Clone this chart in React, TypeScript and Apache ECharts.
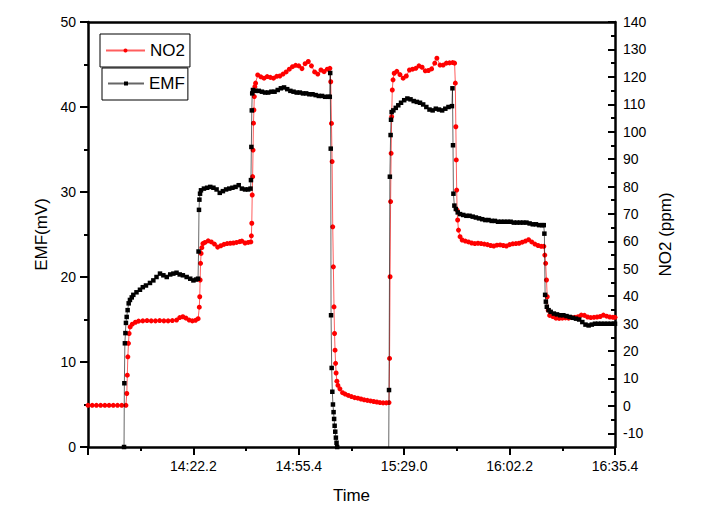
import React, { useEffect, useRef } from "react";
import * as echarts from "echarts";

const timeLabels = ["", "14:22.2", "14:55.4", "15:29.0", "16:02.2", "16:35.4"];
const no2TickValues = [-10, 0, 10, 20, 30, 40, 50, 60, 70, 80, 90, 100, 110, 120, 130, 140];
const no2MinorTickValues = [-5, 5, 15, 25, 35, 45, 55, 65, 75, 85, 95, 105, 115, 125, 135];

// NO2 (ppm): [time position, value]
const no2Data: [number, number][] = [
  [0, 0.2], [4, 0.2], [8, 0.2], [12, 0.2], [16, 0.2], [20, 0.2], [24, 0.2], [28, 0.2], [32, 0.2], [36, 0.2],
  [36.8, 4.5], [37.3, 11.2], [37.8, 17.9], [38.4, 22.8], [39, 26.4], [40, 28.8], [42, 29.8], [45, 30.5], [48, 30.9],
  [52, 31.0], [56, 31.1], [60, 31.0], [64, 31.0], [68, 31.1], [72, 31.0], [76, 31.0], [80, 31.1], [84, 31.3], [87, 32.2],
  [90, 32.5], [93, 32.0], [96, 31.3], [99, 31.0], [102, 31.2], [104.5, 31.8],
  [105.6, 36], [106, 39.8], [106.4, 45.9], [106.8, 52], [107.3, 55.6], [108, 57.7], [109, 59.2],
  [111, 59.6], [114, 60.2], [117, 59.8], [120, 59.0], [123, 57.9], [126, 58.4], [129, 58.9], [132, 59.2], [135, 59.3],
  [138, 59.4], [141, 59.6], [144, 59.9], [146, 60.1], [149, 59.4], [152, 59.6], [154.5, 59.8],
  [155, 62], [155.4, 66.6], [155.8, 76.9], [156.2, 83.6], [156.6, 93.3], [157, 103.1], [157.4, 107.9], [157.8, 112.8], [158.3, 116.4], [159, 117.7],
  [161, 120.7], [164, 120.0], [167, 119.5], [170, 120.1], [173, 119.8], [176, 119.5], [179, 120.2], [182, 120.3], [185, 121.0],
  [188, 121.8], [191, 122.8], [194, 123.7], [197, 124.2], [200, 124.0], [203, 123.0], [206, 124.8], [209, 125.6], [212, 124.0],
  [215, 121.8], [218, 121.0], [221, 122.5], [224, 121.9], [227, 122.8], [229.5, 123.1],
  [230.3, 118.2], [231, 103], [231.6, 89.1], [232.2, 65.3], [232.8, 50.7], [233.4, 36.1], [233.9, 26.4], [234.4, 20.3], [234.9, 15.5],
  [235.4, 12], [236.1, 9], [237.1, 7.5], [239, 6.2], [241.5, 4.8], [244, 4.3], [247, 3.8], [250, 3.4], [253, 3.0], [256, 2.8],
  [259, 2.5], [262, 2.2], [265, 2.0], [268, 1.8], [271, 1.6], [274, 1.4], [277, 1.2], [280, 1.1], [283, 1.1], [285.6, 1.2],
  [286.1, 17.3], [286.6, 47.1], [287.1, 74.5], [287.6, 92.1], [288.1, 105.5], [288.7, 115.2], [289.4, 118.9], [290.5, 121.3],
  [293, 122.0], [296, 120.8], [299, 119.5], [302, 120.3], [305, 122.5], [308, 122.8], [311, 123.1], [314, 124.0], [317, 123.5],
  [320, 122.2], [323, 122.3], [326, 122.9], [329, 125.0], [331, 126.8], [334, 124.3], [337, 124.3], [340, 125.0], [343, 125.1],
  [346, 125.2], [347.8, 125.0],
  [348.5, 117.7], [349, 101.8], [349.4, 89.7], [349.8, 78.7], [350.2, 71.4], [350.7, 67.8], [351.5, 64.1], [353, 61.7],
  [355, 60.5], [358, 60.1], [361, 59.8], [364, 59.4], [367, 59.2], [370, 59.3], [373, 59.2], [376, 59.0], [379, 58.8], [382, 58.5],
  [385, 58.3], [388, 58.6], [391, 58.7], [394, 58.5], [397, 58.3], [400, 58.8], [403, 59.1], [406, 59.2], [409, 59.3], [412, 59.7],
  [415, 60.1], [418, 60.6], [421, 59.8], [424, 59.0], [427, 58.5], [430, 58.2], [432.5, 58.2],
  [433.4, 55], [434.2, 52.0], [435, 45.9], [435.7, 39.8], [436.6, 34.9], [438, 33.0],
  [441, 32.6], [444, 32.0], [447, 31.9], [450, 32.0], [453, 32.1], [456, 32.0], [459, 32.2], [462, 32.3], [465, 32.5], [468, 33.1],
  [471, 33.0], [474, 32.4], [477, 32.2], [480, 32.3], [483, 32.4], [486, 32.6], [489, 33.1], [492, 32.7], [495, 32.4], [498, 32.3], [500, 32.3],
];

// EMF (mV): [time position, value]
const emfData: [number, number][] = [
  [34.2, 0], [34.5, 7.5], [35, 12.2], [35.5, 13.4], [36, 14.6], [36.7, 15.3], [37.6, 16.1], [38.6, 16.9], [39.8, 17.3],
  [41.5, 17.6], [43, 17.9], [46, 18.2], [49.3, 18.5], [52, 18.8], [55, 19.0], [58.8, 19.3], [62, 19.6], [65, 20.0], [68.3, 20.4],
  [71.5, 20.2], [74.7, 20.0], [78, 20.3], [81, 20.4], [84, 20.5], [87, 20.3], [90, 20.2], [93.6, 20.0], [97, 19.8], [100, 19.6],
  [102.5, 19.7], [104.4, 19.8],
  [104.9, 23.0], [105.3, 27.9], [105.7, 29.1], [106.3, 29.8], [107.2, 30.2],
  [110, 30.4], [113, 30.5], [116, 30.6], [119, 30.5], [122, 30.3], [125, 29.9], [128, 30.1], [131, 30.3], [134, 30.4], [137, 30.5],
  [140, 30.6], [143, 30.8], [146, 30.4], [149, 30.3], [152, 30.3], [154.2, 30.4],
  [154.6, 31.4], [155, 35.3], [155.4, 39.6], [155.8, 41.6], [156.5, 42.0],
  [159, 41.9], [162, 41.9], [165, 41.8], [168, 41.7], [171, 41.7], [174, 41.8], [177, 41.8], [180, 42.0], [183, 42.2], [186, 42.3],
  [189, 42.1], [192, 41.9], [195, 41.8], [198, 41.7], [201, 41.7], [204, 41.6], [207, 41.6], [210, 41.5], [213, 41.5], [216, 41.4],
  [219, 41.3], [222, 41.3], [225, 41.2], [228, 41.2], [229.4, 41.2],
  [229.8, 44.0], [230.3, 35.1], [230.6, 15.5], [231.2, 9.3], [231.8, 6.5], [232.4, 5.0], [233, 4.1], [233.5, 3.3], [234, 2.5],
  [234.6, 1.8], [235.2, 1.1], [235.8, 0.5], [236.4, 0.0], [240, -2.0], [250, -3.0], [270, -3.0], [285.2, -3.0],
  [285.6, 6.7], [286.4, 31.8], [287.1, 36.7], [287.5, 38.5], [288.1, 39.4],
  [289.7, 39.6], [292, 39.9], [294.4, 40.2], [297, 40.5], [300, 40.8], [303, 41.0], [306, 40.9], [309, 40.7], [312, 40.6], [315, 40.5],
  [318, 40.3], [321, 40.0], [324, 39.7], [327, 39.6], [330, 39.8], [333, 39.7], [336, 39.6], [339, 39.8], [342, 40.0], [345.3, 40.1],
  [345.8, 42.2], [346.3, 35.5], [346.7, 29.8], [347.6, 28.4], [349, 28.0], [350.8, 27.6],
  [353, 27.4], [356, 27.3], [359, 27.2], [362, 27.2], [365, 27.1], [368, 27.0], [371, 26.9], [374, 26.8], [377, 26.7], [380, 26.7],
  [383, 26.6], [386, 26.6], [389, 26.5], [392, 26.5], [395, 26.5], [398, 26.5], [401, 26.5], [404, 26.4], [407, 26.4], [410, 26.4],
  [413, 26.4], [416, 26.4], [419, 26.3], [422, 26.2], [425, 26.2], [428, 26.1], [431, 26.1], [432.4, 26.1],
  [433, 25.1], [433.7, 17.9], [434.4, 17.1], [435.3, 16.5], [437, 16.1], [439, 15.9], [442, 15.7], [445, 15.6], [448, 15.5],
  [451, 15.5], [454, 15.4], [457, 15.3], [460, 15.2], [463, 15.1], [466, 15.0], [469, 14.7], [472, 14.4], [475, 14.3], [478, 14.4],
  [481, 14.5], [484, 14.5], [487, 14.5], [490, 14.5], [493, 14.5], [496, 14.5], [499, 14.5], [500, 14.5],
];

const FONT = "'Liberation Sans', Arial, sans-serif";

export default function App() {
  const ref = useRef<HTMLDivElement>(null);
  useEffect(() => {
    if (!ref.current) return;
    const chart = echarts.init(ref.current, undefined, { renderer: "svg" });
    const axisLineStyle = { color: "#000", width: 2.5 };
    chart.setOption({
      animation: false,
      backgroundColor: "#fff",
      textStyle: { fontFamily: FONT },
      grid: { left: 88, right: 94, top: 22, bottom: 74, containLabel: false },
      legend: [
        {
          data: [{ name: "NO2" }],
          left: 100,
          top: 34,
          orient: "vertical",
          itemWidth: 39,
          itemHeight: 5,
          padding: [8, 5, 8, 5],
          borderColor: "#000",
          borderWidth: 1,
          textStyle: { fontSize: 17, color: "#000", fontFamily: FONT },
          selectedMode: false,
        },
        {
          data: [{ name: "EMF" }],
          left: 102,
          top: 68,
          orient: "vertical",
          itemWidth: 36,
          itemHeight: 5,
          padding: [7, 3, 8, 5],
          borderColor: "#000",
          borderWidth: 1,
          textStyle: { fontSize: 17, color: "#000", fontFamily: FONT },
          selectedMode: false,
        },
      ],
      xAxis: [
        {
          type: "value",
          min: 0,
          max: 500,
          interval: 100,
          name: "Time",
          nameLocation: "middle",
          nameGap: 40,
          nameTextStyle: { fontSize: 17, color: "#000", fontFamily: FONT },
          axisLine: { onZero: false, lineStyle: axisLineStyle },
          axisTick: { length: 8, lineStyle: { color: "#000", width: 2 } },
          minorTick: { show: true, splitNumber: 2, length: 4, lineStyle: { color: "#000", width: 2 } },
          axisLabel: {
            margin: 12,
            fontSize: 14,
            color: "#000",
            fontFamily: FONT,
            showMinLabel: true,
            showMaxLabel: true,
            formatter: (v: number) => timeLabels[Math.round(v / 100)] ?? "",
          },
          splitLine: { show: false },
        },
        {
          type: "value",
          position: "top",
          min: 0,
          max: 500,
          axisLine: { show: true, onZero: false, lineStyle: axisLineStyle },
          axisTick: { show: false },
          axisLabel: { show: false },
          splitLine: { show: false },
        },
      ],
      yAxis: [
        {
          type: "value",
          position: "left",
          min: 0,
          max: 50,
          interval: 10,
          name: "EMF(mV)",
          nameLocation: "middle",
          nameGap: 36,
          nameTextStyle: { fontSize: 17, color: "#000", fontFamily: FONT },
          axisLine: { show: true, onZero: false, lineStyle: axisLineStyle },
          axisTick: { length: 8, lineStyle: { color: "#000", width: 2 } },
          minorTick: { show: true, splitNumber: 2, length: 4, lineStyle: { color: "#000", width: 2 } },
          axisLabel: { margin: 12, fontSize: 14, color: "#000", fontFamily: FONT },
          splitLine: { show: false },
        },
        {
          type: "value",
          position: "right",
          min: -15,
          max: 140,
          name: "NO2 (ppm)",
          nameLocation: "middle",
          nameGap: 40,
          nameTextStyle: { fontSize: 17, color: "#000", fontFamily: FONT },
          axisLine: { show: true, onZero: false, lineStyle: axisLineStyle },
          axisTick: {
            show: true,
            inside: true,
            length: 7,
            customValues: no2TickValues,
            lineStyle: { color: "#000", width: 2 },
          },
          axisLabel: {
            show: true,
            margin: 8,
            fontSize: 14,
            color: "#000",
            fontFamily: FONT,
            customValues: no2TickValues,
          },
          splitLine: { show: false },
        },
        {
          type: "value",
          position: "right",
          min: -15,
          max: 140,
          axisLine: { show: false, onZero: false },
          axisTick: {
            show: true,
            inside: true,
            length: 4,
            customValues: no2MinorTickValues,
            lineStyle: { color: "#000", width: 2 },
          },
          axisLabel: { show: false },
          splitLine: { show: false },
        },
      ],
      series: [
        {
          name: "NO2",
          type: "line",
          xAxisIndex: 0,
          yAxisIndex: 1,
          data: no2Data,
          symbol: "circle",
          symbolSize: 5,
          showAllSymbol: true,
          itemStyle: { color: "#ff0000", borderWidth: 0 },
          lineStyle: { color: "rgba(255,40,40,0.75)", width: 1 },
          clip: true,
          z: 2,
        },
        {
          name: "EMF",
          type: "line",
          xAxisIndex: 0,
          yAxisIndex: 0,
          data: emfData,
          symbol: "rect",
          symbolSize: 4.5,
          showAllSymbol: true,
          itemStyle: { color: "#000000", borderWidth: 0 },
          lineStyle: { color: "rgba(0,0,0,0.6)", width: 1 },
          clip: true,
          z: 3,
        },
      ],
    });
    return () => chart.dispose();
  }, []);
  return <div ref={ref} style={{ width: 709, height: 521, position: "absolute", left: 0, top: 0 }} />;
}
